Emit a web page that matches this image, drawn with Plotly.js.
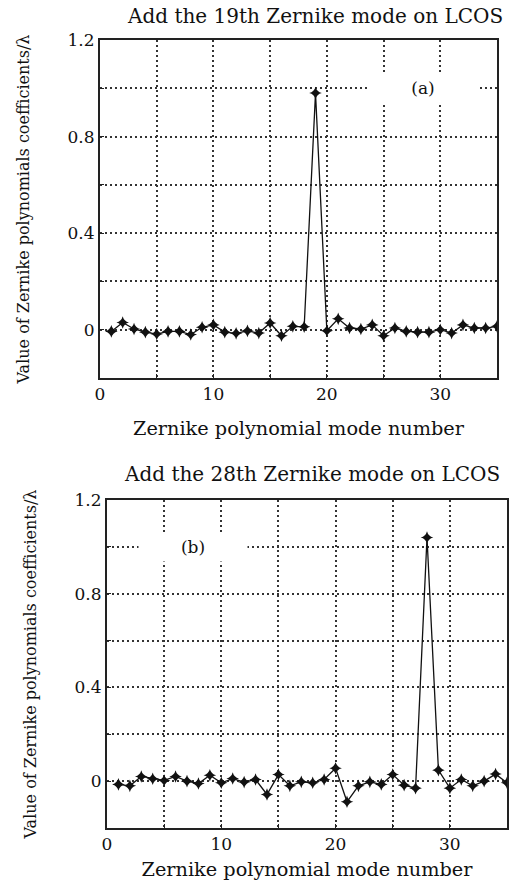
<!DOCTYPE html>
<html><head><meta charset="utf-8">
<script src="https://cdn.plot.ly/plotly-3.0.1.min.js"></script>
<style>html,body{margin:0;padding:0;background:#fff}#plot{width:510px;height:888px}</style>
</head><body><div id="plot"></div>
<script>
const modes = Array.from({length:35},(_,i)=>i+1);
const coeffA = [-0.007,0.03,0.003,-0.01,-0.018,-0.007,-0.007,-0.02,0.01,0.02,-0.01,-0.015,-0.005,-0.014,0.028,-0.025,0.014,0.012,0.98,-0.004,0.045,0.007,0.003,0.02,-0.025,0.007,-0.007,-0.01,-0.01,0,-0.014,0.02,0.007,0.007,0.014];
const coeffB = [-0.014,-0.02,0.02,0.01,0.003,0.02,0,-0.01,0.025,-0.007,0.011,-0.004,0.007,-0.057,0.028,-0.02,-0.003,-0.007,0.007,0.055,-0.088,-0.02,-0.003,-0.014,0.028,-0.017,-0.03,1.04,0.047,-0.03,0.007,-0.02,0,0.03,-0.007];
const xTickVals = [0,5,10,15,20,25,30,35];
const xTickText = ['0','','10','','20','','30',''];
const yTickVals = [-0.2,0,0.2,0.4,0.6,0.8,1.0,1.2];
const yTickText = ['','0','','0.4','','0.8','','1.2'];
const titleA = 'Add the 19th Zernike mode on LCOS';
const titleB = 'Add the 28th Zernike mode on LCOS';
const xLabel = 'Zernike polynomial mode number';
const yLabel = 'Value of Zernike polynomials coefficients/λ';

const FONT = 'DejaVu Serif, serif';
const trace = (y, xa, ya) => ({x: modes, y: y, xaxis: xa, yaxis: ya, type: 'scatter', mode: 'lines+markers',
  line: {color: '#111', width: 1.3}, marker: {symbol: 'star-diamond', size: 9, color: '#111'}, showlegend: false});

const xax = (dom, anchor, so) => ({domain: dom, anchor: anchor, range: [0,35], tickvals: xTickVals, ticktext: xTickText,
  showgrid: true, gridcolor: '#333', gridwidth: 2, griddash: '2px,3px', zeroline: false,
  showline: true, linecolor: '#222', linewidth: 2, mirror: true, ticks: 'inside', ticklen: 4, tickcolor: '#222',
  tickfont: {family: FONT, size: 17, color: '#111'},
  title: {text: xLabel, font: {family: FONT, size: 19.3, color: '#111'}, standoff: so}});
const yax = (dom, anchor) => ({domain: dom, anchor: anchor, range: [-0.2,1.2], tickvals: yTickVals, ticktext: yTickText,
  showgrid: true, gridcolor: '#333', gridwidth: 2, griddash: '2px,3px', zeroline: false,
  showline: true, linecolor: '#222', linewidth: 2, mirror: true, ticks: 'inside', ticklen: 4, tickcolor: '#222',
  tickfont: {family: FONT, size: 17, color: '#111'},
  title: {text: yLabel, font: {family: FONT, size: 16, color: '#111'}, standoff: 34}});

const layout = {
  width: 510, height: 888, margin: {l: 0, r: 0, t: 0, b: 0},
  paper_bgcolor: '#fff', plot_bgcolor: '#fff',
  xaxis: xax([100/510, 497/510], 'y', 18),
  yaxis: yax([(888-378)/888, (888-40)/888], 'x'),
  xaxis2: xax([107/510, 507/510], 'y2', 9),
  yaxis2: yax([(888-828)/888, (888-500)/888], 'x2'),
  annotations: [
    {text: titleA, xref: 'paper', yref: 'paper', x: 315/510, y: 1-16/888, yanchor: 'middle', showarrow: false, font: {family: FONT, size: 20, color: '#111'}},
    {text: titleB, xref: 'paper', yref: 'paper', x: 312/510, y: 1-474/888, yanchor: 'middle', showarrow: false, font: {family: FONT, size: 20, color: '#111'}},
    {text: '(a)', xref: 'x', yref: 'y', x: 28.5, y: 1.0, showarrow: false, bgcolor: '#fff', borderpad: 4, width: 100, font: {family: FONT, size: 17, color: '#111'}},
    {text: '(b)', xref: 'x2', yref: 'y2', x: 7.5, y: 1.0, showarrow: false, bgcolor: '#fff', borderpad: 4, width: 100, font: {family: FONT, size: 17, color: '#111'}}
  ]
};
Plotly.newPlot('plot', [trace(coeffA,'x','y'), trace(coeffB,'x2','y2')], layout, {displayModeBar: false, staticPlot: true});
</script></body></html>
